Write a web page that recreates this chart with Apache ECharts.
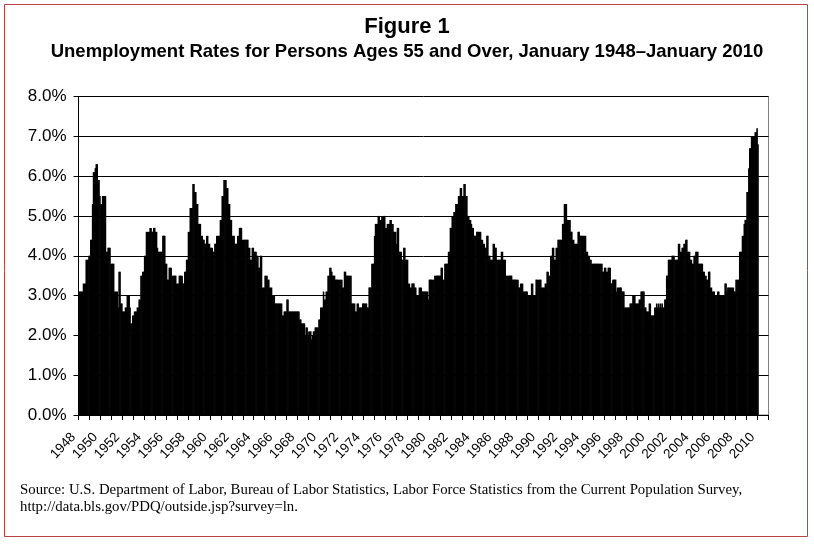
<!DOCTYPE html>
<html>
<head>
<meta charset="utf-8">
<script src="https://cdn.jsdelivr.net/npm/echarts@6/dist/echarts.min.js"></script>
<style>
html,body{margin:0;padding:0;background:#fff;}
#chart{width:814px;height:545px;}
</style>
</head>
<body>
<div id="chart"></div>
<script>
// Monthly unemployment rate (%) for persons 55+, Jan 1948 - Jan 2010
const rates1948_1949 = [
  3.1,3.1,3.1,3.1,3.1,3.3,3.3,3.3,3.9,3.9,3.9,4.0,
  4.0,4.4,4.4,5.3,6.1,6.1,6.2,6.3,6.3,5.9,5.9,5.5
];
const rates1950s = [
  5.3,5.3,5.5,5.5,5.5,5.5,4.1,4.1,4.2,4.2,4.2,3.8,
  3.8,3.8,3.8,3.1,3.1,3.1,3.1,2.7,3.6,3.6,2.8,2.8,
  2.6,2.6,2.6,2.7,2.7,3.0,3.0,3.0,2.7,2.3,2.3,2.5,
  2.5,2.6,2.6,2.6,2.7,2.7,2.9,2.9,3.5,3.5,3.6,3.6,
  4.0,4.0,4.6,4.6,4.6,4.6,4.7,4.7,4.6,4.6,4.7,4.7,
  4.6,4.6,4.2,4.1,4.1,4.1,4.1,4.1,4.5,4.5,4.5,3.8,
  3.8,3.4,3.4,3.7,3.7,3.7,3.5,3.5,3.5,3.5,3.5,3.3,
  3.3,3.3,3.5,3.5,3.5,3.5,3.3,3.3,3.6,3.6,3.9,3.9,
  4.6,4.6,5.2,5.2,5.2,5.8,5.8,5.6,5.6,5.3,5.3,4.8,
  4.8,4.8,4.5,4.5,4.4,4.4,4.3,4.3,4.5,4.5,4.3,4.3
];
const rates1960s = [
  4.2,4.2,4.2,4.1,4.1,4.3,4.3,4.5,4.5,4.5,4.5,4.9,
  4.9,5.5,5.5,5.9,5.9,5.9,5.7,5.7,5.3,5.3,4.9,4.9,
  4.5,4.5,4.5,4.3,4.3,4.3,4.5,4.5,4.7,4.7,4.7,4.4,
  4.4,4.4,4.4,4.4,4.4,4.4,4.2,4.2,3.9,3.9,4.2,4.2,
  4.1,4.1,4.1,4.0,4.0,3.7,3.7,4.0,4.0,3.2,3.2,3.2,
  3.5,3.5,3.5,3.4,3.4,3.2,3.2,3.2,3.0,3.0,3.0,2.8,
  2.8,2.8,2.8,2.8,2.8,2.8,2.8,2.5,2.5,2.6,2.6,2.6,
  2.9,2.9,2.6,2.6,2.6,2.6,2.6,2.6,2.6,2.6,2.6,2.6,
  2.6,2.6,2.4,2.4,2.3,2.3,2.3,2.3,2.0,2.2,2.2,2.0,
  2.1,2.1,2.1,1.9,2.0,2.1,2.1,2.2,2.2,2.2,2.2,2.4
];
const rates1970s = [
  2.4,2.7,2.7,2.7,3.1,2.9,2.9,3.1,3.1,3.5,3.5,3.7,
  3.7,3.6,3.5,3.5,3.5,3.4,3.4,3.4,3.4,3.4,3.4,3.4,
  3.4,3.2,3.2,3.6,3.6,3.5,3.5,3.5,3.5,3.5,3.5,2.8,
  2.8,2.8,2.8,2.6,2.6,2.8,2.8,2.7,2.7,2.7,2.7,2.8,
  2.8,2.8,2.8,2.8,2.7,2.7,3.2,3.2,3.2,3.8,3.8,3.8,
  4.5,4.8,4.8,4.8,5.0,5.0,4.9,4.9,5.0,5.0,5.0,5.0,
  4.7,4.7,4.8,4.8,4.8,4.9,4.9,4.8,4.8,4.6,4.6,4.6,
  4.3,4.7,4.7,4.1,4.1,4.1,3.9,3.9,4.2,4.2,3.9,3.9,
  3.9,3.3,3.3,3.2,3.2,3.3,3.3,3.3,3.2,3.2,3.0,3.0,
  3.0,3.2,3.2,3.2,3.1,3.1,3.1,3.1,3.1,3.1,3.1,2.9
];
const rates1980s = [
  3.4,3.4,3.4,3.4,3.4,3.4,3.5,3.5,3.5,3.5,3.5,3.5,
  3.5,3.7,3.7,3.4,3.4,3.8,3.8,3.8,3.8,4.1,4.1,4.7,
  4.7,5.0,5.0,5.1,5.1,5.3,5.3,5.3,5.5,5.5,5.7,5.7,
  5.5,5.5,5.8,5.8,5.5,5.5,5.0,5.0,4.9,4.9,4.8,4.7,
  4.7,4.5,4.5,4.5,4.6,4.6,4.6,4.6,4.6,4.4,4.4,4.3,
  4.3,4.2,4.2,4.5,4.5,4.0,4.0,3.9,3.9,3.9,4.3,4.3,
  4.2,4.2,3.9,3.9,3.9,3.9,3.9,4.1,4.1,3.9,3.9,3.9,
  3.5,3.5,3.5,3.5,3.5,3.5,3.5,3.4,3.4,3.4,3.4,3.4,
  3.4,3.4,3.2,3.2,3.3,3.3,3.3,3.1,3.1,3.1,3.1,3.1,
  3.0,3.0,3.0,3.0,3.3,3.3,3.0,3.0,3.0,3.4,3.4,3.4
];
const rates1990s = [
  3.4,3.4,3.4,3.2,3.2,3.2,3.2,3.3,3.3,3.6,3.6,3.5,
  3.5,4.0,4.0,4.2,4.2,3.9,3.9,4.2,4.2,4.4,4.4,4.4,
  4.4,4.4,4.8,4.8,5.3,5.3,5.3,4.9,4.9,4.9,4.9,4.6,
  4.6,4.4,4.4,4.3,4.3,4.3,4.3,4.6,4.6,4.5,4.5,4.5,
  4.5,4.5,4.5,4.5,4.1,4.1,4.0,4.0,3.9,3.9,3.8,3.8,
  3.8,3.8,3.8,3.8,3.8,3.8,3.8,3.8,3.8,3.8,3.6,3.6,
  3.7,3.7,3.6,3.6,3.7,3.7,3.7,3.3,3.3,3.4,3.4,3.4,
  3.4,3.1,3.2,3.2,3.2,3.2,3.2,3.1,3.1,3.1,2.7,2.7,
  2.7,2.7,2.7,2.7,2.8,2.8,2.8,3.0,3.0,3.0,2.8,2.8,
  2.8,2.8,2.9,2.9,3.1,3.1,3.1,3.1,2.7,2.7,2.6,2.6
];
const rates2000s = [
  2.6,2.8,2.8,2.5,2.5,2.5,2.5,2.7,2.7,2.8,2.7,2.8,
  2.7,2.8,2.7,2.8,2.7,2.7,2.9,2.9,3.5,3.5,3.9,3.9,
  3.9,3.9,4.0,4.0,4.0,3.9,3.9,3.9,3.9,4.3,4.3,4.1,
  4.1,4.2,4.2,4.3,4.3,4.4,4.4,4.1,4.1,4.1,3.9,3.9,
  3.8,3.8,4.0,4.0,4.1,4.1,4.1,3.8,3.8,3.8,3.8,3.8,
  3.6,3.6,3.5,3.5,3.4,3.4,3.6,3.6,3.2,3.2,3.1,3.1,
  3.1,3.0,3.0,3.0,3.1,3.1,3.0,3.0,3.0,3.0,3.0,3.0,
  3.3,3.3,3.1,3.2,3.2,3.2,3.2,3.2,3.2,3.2,3.1,3.1,
  3.4,3.4,3.4,3.4,4.1,4.1,4.1,4.5,4.5,4.8,4.9,4.9,
  5.6,5.6,6.2,6.7,6.7,7.0,7.0,7.0,7.0,7.1,7.1,7.2
];
const rates2010 = [6.8];

const startYear = 1948;
const endYear = 2010;            // category axis runs through Dec 2010
const yTicks = [0,1,2,3,4,5,6,7,8];

const values = [].concat(rates1948_1949, rates1950s, rates1960s, rates1970s,
                         rates1980s, rates1990s, rates2000s, rates2010);
const monthNames = ['Jan','Feb','Mar','Apr','May','Jun','Jul','Aug','Sep','Oct','Nov','Dec'];
const categories = [];
for (let y = startYear; y <= endYear; y++) {
  for (let m = 0; m < 12; m++) categories.push(monthNames[m] + ' ' + y);
}

const chart = echarts.init(document.getElementById('chart'), null, {renderer: 'canvas'});
const sans = '"Liberation Sans", Arial, sans-serif';
const serif = '"Liberation Serif", "Times New Roman", serif';

chart.setOption({
  animation: false,
  backgroundColor: '#fff',
  title: [
    {
      text: 'Figure 1',
      left: 'center', top: 16, padding: 0,
      textStyle: {fontFamily: sans, fontSize: 22, fontWeight: 'bold', color: '#000'}
    },
    {
      text: 'Unemployment Rates for Persons Ages 55 and Over, January 1948\u2013January 2010',
      left: 'center', top: 42, padding: 0,
      textStyle: {fontFamily: sans, fontSize: 18.5, fontWeight: 'bold', color: '#000'}
    },
    {
      text: 'Source: U.S. Department of Labor, Bureau of Labor Statistics, Labor Force Statistics from the Current Population Survey,\nhttp://data.bls.gov/PDQ/outside.jsp?survey=ln.',
      left: 20, top: 482, padding: 0,
      textStyle: {fontFamily: serif, fontSize: 14.8, fontWeight: 'normal', color: '#000', lineHeight: 17}
    }
  ],
  graphic: [
    {
      type: 'rect',
      shape: {x: 4.5, y: 4.5, width: 803, height: 532},
      style: {fill: 'none', stroke: '#b84444', lineWidth: 1},
      silent: true
    }
  ],
  grid: {
    left: 78.5, right: 45.5, top: 96.5, bottom: 130,
    show: true, borderColor: '#808080', borderWidth: 1, backgroundColor: '#fff'
  },
  xAxis: {
    type: 'category',
    data: categories,
    boundaryGap: true,
    axisLine: {show: true, lineStyle: {color: '#000', width: 1}},
    axisTick: {show: true, interval: 11, length: 5, lineStyle: {color: '#000'}},
    axisLabel: {
      interval: 23,
      rotate: 47,
      margin: 14,
      padding: [0, 8, 0, 0],
      fontFamily: sans,
      fontSize: 13.5,
      color: '#000',
      formatter: function (v) { return v.split(' ')[1]; }
    },
    splitLine: {show: false}
  },
  yAxis: {
    type: 'value',
    min: yTicks[0], max: yTicks[yTicks.length - 1], interval: 1,
    axisLine: {show: true, lineStyle: {color: '#000', width: 1}},
    axisTick: {show: true, length: 5, lineStyle: {color: '#000'}},
    axisLabel: {
      margin: 12,
      fontFamily: sans, fontSize: 17, color: '#000',
      formatter: function (v) { return v.toFixed(1) + '%'; }
    },
    splitLine: {show: true, lineStyle: {color: '#000', width: 1}}
  },
  series: [
    {
      type: 'bar',
      data: values,
      barWidth: 1.6,
      itemStyle: {color: '#000'},
      z: 3
    }
  ]
});
</script>
</body>
</html>
